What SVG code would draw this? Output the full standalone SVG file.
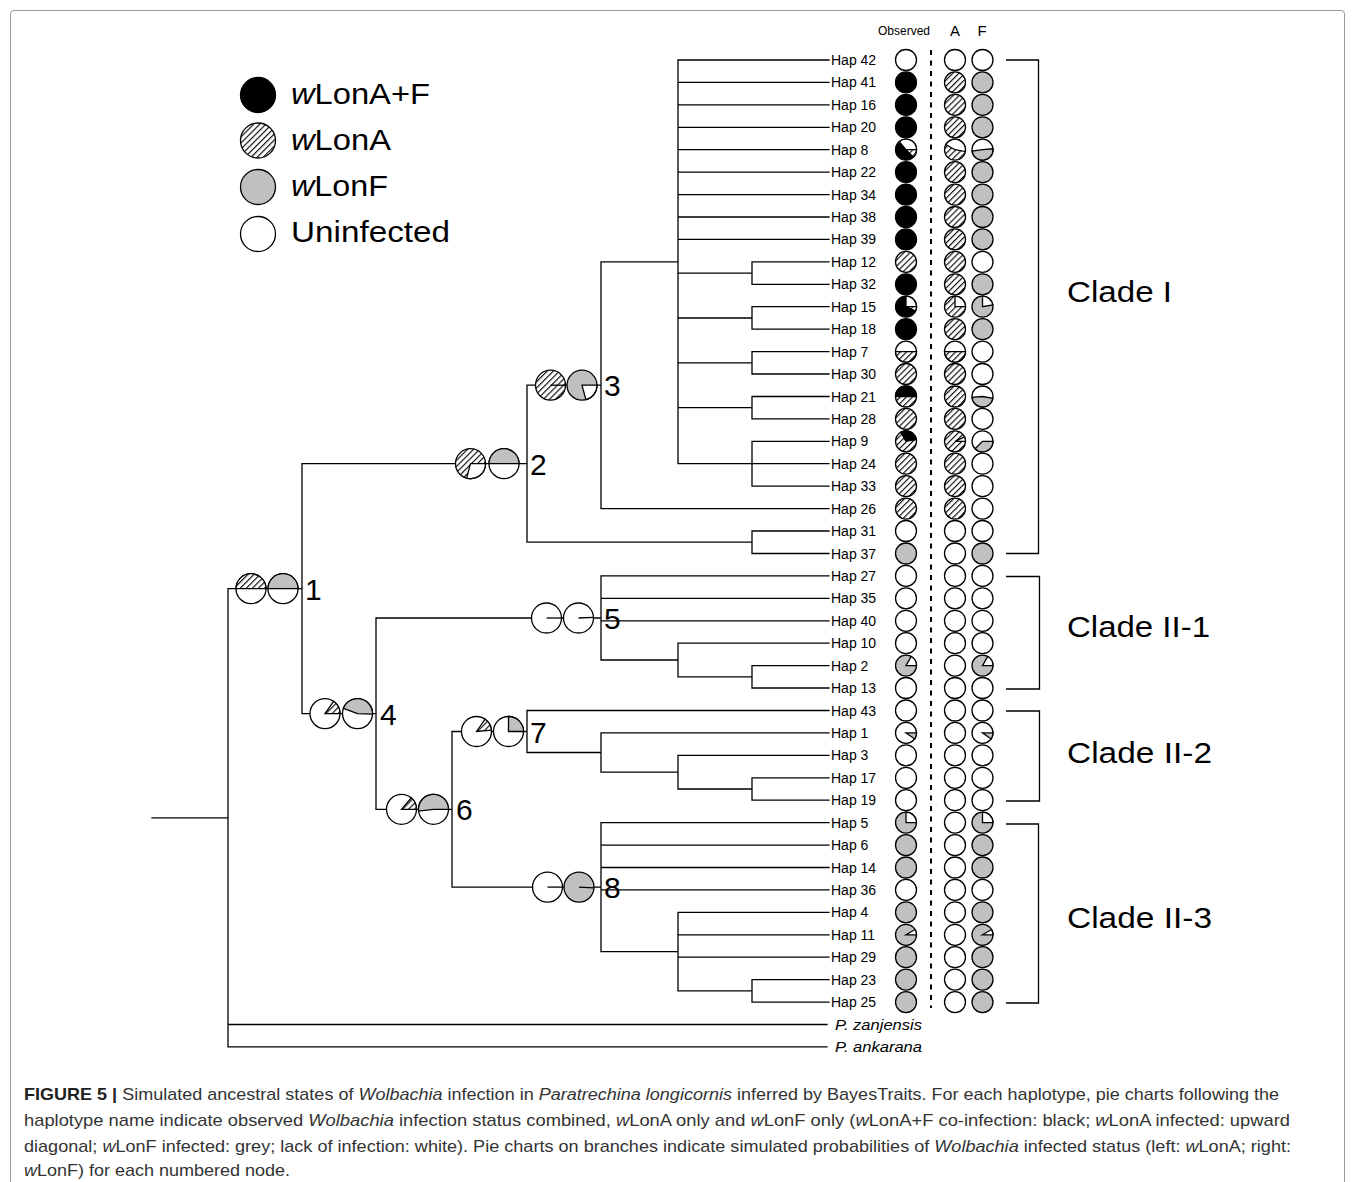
<svg xmlns="http://www.w3.org/2000/svg" xmlns:xlink="http://www.w3.org/1999/xlink" width="1355" height="1182" viewBox="0 0 1355 1182">
<defs>
<pattern id="hatch" patternUnits="userSpaceOnUse" width="4.3" height="4.3" patternTransform="rotate(45)">
<rect width="4.3" height="4.3" fill="#fff"/>
<line x1="0.6" y1="0" x2="0.6" y2="4.3" stroke="#000" stroke-width="1.1"/>
</pattern>
<style>
.w{fill:#fff;stroke:#000;stroke-width:1.3}
.b{fill:#000;stroke:#000;stroke-width:1.3}
.h{fill:url(#hatch);stroke:#000;stroke-width:1.3}
.g{fill:#c0c0c0;stroke:#000;stroke-width:1.3}
.rad{fill:none;stroke:#000;stroke-width:1.3}
.tree{fill:none;stroke:#000;stroke-width:1.3;stroke-linecap:square}
.lab{font-family:"Liberation Sans",Arial,sans-serif;font-size:14px;fill:#000}
.sp{font-family:"Liberation Sans",Arial,sans-serif;font-size:14px;font-style:italic;fill:#000}
.nl{font-family:"Liberation Sans",Arial,sans-serif;font-size:30px;fill:#000}
.big{font-family:"Liberation Sans",Arial,sans-serif;font-size:30px;fill:#000}
.cap{font-family:"Liberation Sans",Arial,sans-serif;font-size:17px;fill:#333}
.i{font-style:italic}
</style>
<circle id="pW" r="10.5" class="w"/>
<circle id="pB" r="10.5" class="b"/>
<circle id="pH" r="10.5" class="h"/>
<circle id="pG" r="10.5" class="g"/>
</defs>

<rect x="0" y="0" width="1355" height="1182" fill="#fff"/>
<path d="M10.5,1182 V14 Q10.5,10.5 14,10.5 H1341 Q1344.5,10.5 1344.5,14 V1182" fill="none" stroke="#9a9a9a" stroke-width="1"/>

<g id="legend">
<circle cx="258" cy="95" r="17.5" class="b"/>
<circle cx="258" cy="140.5" r="17.5" class="h"/>
<circle cx="258" cy="187" r="17.5" class="g"/>
<circle cx="258" cy="234" r="17.5" class="w"/>
<text class="big" x="291" y="104" textLength="139" lengthAdjust="spacingAndGlyphs"><tspan class="i">w</tspan>LonA+F</text>
<text class="big" x="291" y="150" textLength="100" lengthAdjust="spacingAndGlyphs"><tspan class="i">w</tspan>LonA</text>
<text class="big" x="291" y="196" textLength="97" lengthAdjust="spacingAndGlyphs"><tspan class="i">w</tspan>LonF</text>
<text class="big" x="291" y="242" textLength="159" lengthAdjust="spacingAndGlyphs">Uninfected</text>
</g>

<g id="header">
<text class="lab" x="878" y="35" textLength="52" lengthAdjust="spacingAndGlyphs" style="font-size:12px">Observed</text>
<text class="lab" x="955" y="36" text-anchor="middle" style="font-size:15px">A</text>
<text class="lab" x="982" y="36" text-anchor="middle" style="font-size:15px">F</text>
</g>

<g id="connectors">
<path class="tree" d="M152,817.8 H228 M228,588.7 V1046.9 M228,588.7 H302 M228,1024.5 H827 M228,1046.9 H827
M302,463.7 V713.6 M302,463.7 H527 M302,713.6 H376
M527,385.2 V542.2 M527,385.2 H601 M527,542.2 H752 M752,531 V553.5 M752,531 H829 M752,553.5 H829
M601,261.9 V508.6 M601,261.9 H678 M601,508.6 H829
M678,60 V463.7 M678,60 H829 M678,82.4 H829 M678,104.9 H829 M678,127.3 H829 M678,149.7 H829 M678,172.2 H829 M678,194.6 H829 M678,217 H829 M678,239.4 H829
M678,273.1 H752 M752,261.9 V284.3 M752,261.9 H829 M752,284.3 H829
M678,318 H752 M752,306.7 V329.2 M752,306.7 H829 M752,329.2 H829
M678,362.8 H752 M752,351.6 V374 M752,351.6 H829 M752,374 H829
M678,407.7 H752 M752,396.5 V418.9 M752,396.5 H829 M752,418.9 H829
M678,463.7 H829 M752,441.3 V486.2 M752,441.3 H829 M752,486.2 H829
M376,618 V809.3 M376,618 H601 M376,809.3 H452
M601,575.9 V660 M601,575.9 H829 M601,598.3 H829 M601,620.8 H829 M601,660 H678
M678,643.2 V676.8 M678,643.2 H829 M678,676.8 H752 M752,665.6 V688 M752,665.6 H829 M752,688 H829
M452,731.5 V887.1 M452,731.5 H527 M452,887.1 H601
M527,710.5 V752.5 M527,710.5 H829 M527,752.5 H601
M601,732.9 V772.2 M601,732.9 H829 M601,772.2 H678
M678,755.3 V789 M678,755.3 H829 M678,789 H752 M752,777.8 V800.2 M752,777.8 H829 M752,800.2 H829
M601,822.6 V951.6 M601,822.6 H829 M601,845.1 H829 M601,867.5 H829 M601,889.9 H829 M601,951.6 H678
M678,912.3 V990.9 M678,912.3 H829 M678,934.8 H829 M678,957.2 H829 M678,990.9 H752 M752,979.6 V1002.1 M752,979.6 H829 M752,1002.1 H829"/>
</g>

<line id="divider" x1="931" y1="50" x2="931" y2="1008" stroke="#000" stroke-width="2" stroke-dasharray="5 5.5"/>

<g id="tips">
<g id="hap42"><text class="lab" x="831" y="65">Hap 42</text><use href="#pW" x="906" y="60"/><use href="#pW" x="955" y="60"/><use href="#pW" x="982.5" y="60"/></g>
<g id="hap41"><text class="lab" x="831" y="87.4">Hap 41</text><use href="#pB" x="906" y="82.4"/><use href="#pH" x="955" y="82.4"/><use href="#pG" x="982.5" y="82.4"/></g>
<g id="hap16"><text class="lab" x="831" y="109.9">Hap 16</text><use href="#pB" x="906" y="104.9"/><use href="#pH" x="955" y="104.9"/><use href="#pG" x="982.5" y="104.9"/></g>
<g id="hap20"><text class="lab" x="831" y="132.3">Hap 20</text><use href="#pB" x="906" y="127.3"/><use href="#pH" x="955" y="127.3"/><use href="#pG" x="982.5" y="127.3"/></g>
<g id="hap8"><text class="lab" x="831" y="154.7">Hap 8</text>
<g transform="translate(906,149.7)"><circle r="10.5" class="b"/><path class="w" d="M0,0 L-6.75,-8.04 A10.5,10.5 0 0 1 10.5,0 Z"/><path class="h" d="M0,0 L10.5,0 A10.5,10.5 0 0 1 7.42,7.42 Z"/></g>
<g transform="translate(955,149.7)"><circle r="10.5" class="h"/><path class="w" d="M0,0 L-9.09,-5.25 A10.5,10.5 0 0 1 10.34,1.82 Z"/></g>
<g transform="translate(982.5,149.7)"><circle r="10.5" class="w"/><path class="g" d="M0,0 L10.46,-0.92 A10.5,10.5 0 0 1 -10.4,1.46 Z"/></g></g>
<g id="hap22"><text class="lab" x="831" y="177.2">Hap 22</text><use href="#pB" x="906" y="172.2"/><use href="#pH" x="955" y="172.2"/><use href="#pG" x="982.5" y="172.2"/></g>
<g id="hap34"><text class="lab" x="831" y="199.6">Hap 34</text><use href="#pB" x="906" y="194.6"/><use href="#pH" x="955" y="194.6"/><use href="#pG" x="982.5" y="194.6"/></g>
<g id="hap38"><text class="lab" x="831" y="222">Hap 38</text><use href="#pB" x="906" y="217"/><use href="#pH" x="955" y="217"/><use href="#pG" x="982.5" y="217"/></g>
<g id="hap39"><text class="lab" x="831" y="244.4">Hap 39</text><use href="#pB" x="906" y="239.4"/><use href="#pH" x="955" y="239.4"/><use href="#pG" x="982.5" y="239.4"/></g>
<g id="hap12"><text class="lab" x="831" y="266.9">Hap 12</text><use href="#pH" x="906" y="261.9"/><use href="#pH" x="955" y="261.9"/><use href="#pW" x="982.5" y="261.9"/></g>
<g id="hap32"><text class="lab" x="831" y="289.3">Hap 32</text><use href="#pB" x="906" y="284.3"/><use href="#pH" x="955" y="284.3"/><use href="#pG" x="982.5" y="284.3"/></g>
<g id="hap15"><text class="lab" x="831" y="311.7">Hap 15</text>
<g transform="translate(906,306.7)"><circle r="10.5" class="b"/><path class="w" d="M0,0 L0,-10.5 A10.5,10.5 0 0 1 10.5,0 Z"/><path class="h" d="M0,0 L10.5,0 A10.5,10.5 0 0 1 9.52,4.44 Z"/></g>
<g transform="translate(955,306.7)"><circle r="10.5" class="h"/><path class="w" d="M0,0 L0,-10.5 A10.5,10.5 0 0 1 10.5,0 Z"/></g>
<g transform="translate(982.5,306.7)"><circle r="10.5" class="g"/><path class="w" d="M0,0 L0,-10.5 A10.5,10.5 0 0 1 10.34,-1.82 Z"/></g></g>
<g id="hap18"><text class="lab" x="831" y="334.2">Hap 18</text><use href="#pB" x="906" y="329.2"/><use href="#pH" x="955" y="329.2"/><use href="#pG" x="982.5" y="329.2"/></g>
<g id="hap7"><text class="lab" x="831" y="356.6">Hap 7</text>
<g transform="translate(906,351.6)"><circle r="10.5" class="w"/><path class="h" d="M0,0 L10.5,0 A10.5,10.5 0 0 1 -10.5,0 Z"/></g>
<g transform="translate(955,351.6)"><circle r="10.5" class="w"/><path class="h" d="M0,0 L10.5,0 A10.5,10.5 0 0 1 -10.5,0 Z"/></g>
<use href="#pW" x="982.5" y="351.6"/></g>
<g id="hap30"><text class="lab" x="831" y="379">Hap 30</text><use href="#pH" x="906" y="374"/><use href="#pH" x="955" y="374"/><use href="#pW" x="982.5" y="374"/></g>
<g id="hap21"><text class="lab" x="831" y="401.5">Hap 21</text>
<g transform="translate(906,396.5)"><circle r="10.5" class="h"/><path class="b" d="M0,0 L-10.5,0 A10.5,10.5 0 0 1 10.5,0 Z"/></g>
<use href="#pH" x="955" y="396.5"/>
<g transform="translate(982.5,396.5)"><circle r="10.5" class="w"/><path class="g" d="M0,0 L10.34,1.82 A10.5,10.5 0 0 1 -10.46,0.92 Z"/></g></g>
<g id="hap28"><text class="lab" x="831" y="423.9">Hap 28</text><use href="#pH" x="906" y="418.9"/><use href="#pH" x="955" y="418.9"/><use href="#pW" x="982.5" y="418.9"/></g>
<g id="hap9"><text class="lab" x="831" y="446.3">Hap 9</text>
<g transform="translate(906,441.3)"><circle r="10.5" class="h"/><path class="b" d="M0,0 L-5.25,-9.09 A10.5,10.5 0 0 1 10.34,-1.82 Z"/></g>
<g transform="translate(955,441.3)"><circle r="10.5" class="h"/><path class="w" d="M0,0 L9.52,-4.44 A10.5,10.5 0 0 1 10.5,0 Z"/></g>
<g transform="translate(982.5,441.3)"><circle r="10.5" class="w"/><path class="g" d="M0,0 L10.5,0 A10.5,10.5 0 0 1 -7.42,7.42 Z"/></g></g>
<g id="hap24"><text class="lab" x="831" y="468.7">Hap 24</text><use href="#pH" x="906" y="463.7"/><use href="#pH" x="955" y="463.7"/><use href="#pW" x="982.5" y="463.7"/></g>
<g id="hap33"><text class="lab" x="831" y="491.2">Hap 33</text><use href="#pH" x="906" y="486.2"/><use href="#pH" x="955" y="486.2"/><use href="#pW" x="982.5" y="486.2"/></g>
<g id="hap26"><text class="lab" x="831" y="513.6">Hap 26</text><use href="#pH" x="906" y="508.6"/><use href="#pH" x="955" y="508.6"/><use href="#pW" x="982.5" y="508.6"/></g>
<g id="hap31"><text class="lab" x="831" y="536">Hap 31</text><use href="#pW" x="906" y="531"/><use href="#pW" x="955" y="531"/><use href="#pW" x="982.5" y="531"/></g>
<g id="hap37"><text class="lab" x="831" y="558.5">Hap 37</text><use href="#pG" x="906" y="553.5"/><use href="#pW" x="955" y="553.5"/><use href="#pG" x="982.5" y="553.5"/></g>
<g id="hap27"><text class="lab" x="831" y="580.9">Hap 27</text><use href="#pW" x="906" y="575.9"/><use href="#pW" x="955" y="575.9"/><use href="#pW" x="982.5" y="575.9"/></g>
<g id="hap35"><text class="lab" x="831" y="603.3">Hap 35</text><use href="#pW" x="906" y="598.3"/><use href="#pW" x="955" y="598.3"/><use href="#pW" x="982.5" y="598.3"/></g>
<g id="hap40"><text class="lab" x="831" y="625.8">Hap 40</text><use href="#pW" x="906" y="620.8"/><use href="#pW" x="955" y="620.8"/><use href="#pW" x="982.5" y="620.8"/></g>
<g id="hap10"><text class="lab" x="831" y="648.2">Hap 10</text><use href="#pW" x="906" y="643.2"/><use href="#pW" x="955" y="643.2"/><use href="#pW" x="982.5" y="643.2"/></g>
<g id="hap2"><text class="lab" x="831" y="670.6">Hap 2</text>
<g transform="translate(906,665.6)"><circle r="10.5" class="g"/><path class="w" d="M0,0 L5.25,-9.09 A10.5,10.5 0 0 1 10.5,0 Z"/></g>
<use href="#pW" x="955" y="665.6"/>
<g transform="translate(982.5,665.6)"><circle r="10.5" class="g"/><path class="w" d="M0,0 L5.25,-9.09 A10.5,10.5 0 0 1 10.5,0 Z"/></g></g>
<g id="hap13"><text class="lab" x="831" y="693">Hap 13</text><use href="#pW" x="906" y="688"/><use href="#pW" x="955" y="688"/><use href="#pW" x="982.5" y="688"/></g>
<g id="hap43"><text class="lab" x="831" y="715.5">Hap 43</text><use href="#pW" x="906" y="710.5"/><use href="#pW" x="955" y="710.5"/><use href="#pW" x="982.5" y="710.5"/></g>
<g id="hap1"><text class="lab" x="831" y="737.9">Hap 1</text>
<g transform="translate(906,732.9)"><circle r="10.5" class="w"/><path class="g" d="M0,0 L10.5,0 A10.5,10.5 0 0 1 8.6,6.02 Z"/></g>
<use href="#pW" x="955" y="732.9"/>
<g transform="translate(982.5,732.9)"><circle r="10.5" class="w"/><path class="g" d="M0,0 L10.5,0 A10.5,10.5 0 0 1 8.6,6.02 Z"/></g></g>
<g id="hap3"><text class="lab" x="831" y="760.3">Hap 3</text><use href="#pW" x="906" y="755.3"/><use href="#pW" x="955" y="755.3"/><use href="#pW" x="982.5" y="755.3"/></g>
<g id="hap17"><text class="lab" x="831" y="782.8">Hap 17</text><use href="#pW" x="906" y="777.8"/><use href="#pW" x="955" y="777.8"/><use href="#pW" x="982.5" y="777.8"/></g>
<g id="hap19"><text class="lab" x="831" y="805.2">Hap 19</text><use href="#pW" x="906" y="800.2"/><use href="#pW" x="955" y="800.2"/><use href="#pW" x="982.5" y="800.2"/></g>
<g id="hap5"><text class="lab" x="831" y="827.6">Hap 5</text>
<g transform="translate(906,822.6)"><circle r="10.5" class="g"/><path class="w" d="M0,0 L0,-10.5 A10.5,10.5 0 0 1 10.5,0 Z"/></g>
<use href="#pW" x="955" y="822.6"/>
<g transform="translate(982.5,822.6)"><circle r="10.5" class="g"/><path class="w" d="M0,0 L0,-10.5 A10.5,10.5 0 0 1 10.5,0 Z"/></g></g>
<g id="hap6"><text class="lab" x="831" y="850.1">Hap 6</text><use href="#pG" x="906" y="845.1"/><use href="#pW" x="955" y="845.1"/><use href="#pG" x="982.5" y="845.1"/></g>
<g id="hap14"><text class="lab" x="831" y="872.5">Hap 14</text><use href="#pG" x="906" y="867.5"/><use href="#pW" x="955" y="867.5"/><use href="#pG" x="982.5" y="867.5"/></g>
<g id="hap36"><text class="lab" x="831" y="894.9">Hap 36</text><use href="#pW" x="906" y="889.9"/><use href="#pW" x="955" y="889.9"/><use href="#pW" x="982.5" y="889.9"/></g>
<g id="hap4"><text class="lab" x="831" y="917.3">Hap 4</text><use href="#pG" x="906" y="912.3"/><use href="#pW" x="955" y="912.3"/><use href="#pG" x="982.5" y="912.3"/></g>
<g id="hap11"><text class="lab" x="831" y="939.8">Hap 11</text>
<g transform="translate(906,934.8)"><circle r="10.5" class="g"/><path class="w" d="M0,0 L9.09,-5.25 A10.5,10.5 0 0 1 10.5,0 Z"/></g>
<use href="#pW" x="955" y="934.8"/>
<g transform="translate(982.5,934.8)"><circle r="10.5" class="g"/><path class="w" d="M0,0 L9.09,-5.25 A10.5,10.5 0 0 1 10.5,0 Z"/></g></g>
<g id="hap29"><text class="lab" x="831" y="962.2">Hap 29</text><use href="#pG" x="906" y="957.2"/><use href="#pW" x="955" y="957.2"/><use href="#pG" x="982.5" y="957.2"/></g>
<g id="hap23"><text class="lab" x="831" y="984.6">Hap 23</text><use href="#pG" x="906" y="979.6"/><use href="#pW" x="955" y="979.6"/><use href="#pG" x="982.5" y="979.6"/></g>
<g id="hap25"><text class="lab" x="831" y="1007.1">Hap 25</text><use href="#pG" x="906" y="1002.1"/><use href="#pW" x="955" y="1002.1"/><use href="#pG" x="982.5" y="1002.1"/></g>
<g id="pzan"><text class="sp" x="835" y="1029.5" textLength="87" lengthAdjust="spacingAndGlyphs">P. zanjensis</text></g>
<g id="pank"><text class="sp" x="835" y="1051.9" textLength="87" lengthAdjust="spacingAndGlyphs">P. ankarana</text></g>
</g>

<g id="nodes">
<g id="node1">
<g transform="translate(251,588.7)"><circle r="15" class="w"/><path class="h" d="M0,0 L-15,0 A15,15 0 0 1 15,0 Z"/></g>
<g transform="translate(283,588.7)"><circle r="15" class="w"/><path class="g" d="M0,0 L-15,0 A15,15 0 0 1 15,0 Z"/></g>
<text class="nl" x="305" y="599.7">1</text></g>
<g id="node2">
<g transform="translate(470.5,463.7)"><circle r="15" class="h"/><path class="w" d="M0,0 L15,0 A15,15 0 0 1 -3.88,14.49 Z"/></g>
<g transform="translate(504,463.7)"><circle r="15" class="w"/><path class="g" d="M0,0 L-15,0 A15,15 0 0 1 15,0 Z"/></g>
<text class="nl" x="530" y="474.7">2</text></g>
<g id="node3">
<g transform="translate(550.5,385.2)"><circle r="15" class="h"/><path class="rad" d="M0,0 H15"/></g>
<g transform="translate(582,385.2)"><circle r="15" class="g"/><path class="w" d="M0,0 L15,0 A15,15 0 0 1 3.88,14.49 Z"/></g>
<text class="nl" x="604" y="396.2">3</text></g>
<g id="node4">
<g transform="translate(325,713.6)"><circle r="15" class="w"/><path class="h" d="M0,0 L8.6,-12.29 A15,15 0 0 1 15,0 Z"/></g>
<g transform="translate(357.5,713.6)"><circle r="15" class="w"/><path class="g" d="M0,0 L-14.1,-5.13 A15,15 0 0 1 14.99,0.52 Z"/></g>
<text class="nl" x="380" y="724.6">4</text></g>
<g id="node5">
<g transform="translate(546.5,618)"><circle r="15" class="w"/><path class="rad" d="M0,0 H15"/></g>
<g transform="translate(578.5,618)"><circle r="15" class="w"/><path class="rad" d="M0,0 L15,-0.6"/></g>
<text class="nl" x="604" y="629">5</text></g>
<g id="node6">
<g transform="translate(401.5,809.3)"><circle r="15" class="w"/><path class="h" d="M0,0 L9.64,-11.49 A15,15 0 0 1 15,0 Z"/></g>
<g transform="translate(433.5,809.3)"><circle r="15" class="w"/><path class="g" d="M0,0 L-14.89,1.83 A15,15 0 1 1 15,0 Z"/></g>
<text class="nl" x="456" y="820.3">6</text></g>
<g id="node7">
<g transform="translate(476.5,731.5)"><circle r="15" class="w"/><path class="h" d="M0,0 L8.6,-12.29 A15,15 0 0 1 14.94,-1.31 Z"/></g>
<g transform="translate(508.5,731.5)"><circle r="15" class="w"/><path class="g" d="M0,0 L0,-15 A15,15 0 0 1 15,0 Z"/></g>
<text class="nl" x="530" y="742.5">7</text></g>
<g id="node8">
<g transform="translate(547.5,887.1)"><circle r="15" class="w"/><path class="rad" d="M0,0 H15"/></g>
<g transform="translate(579,887.1)"><circle r="15" class="g"/><path class="rad" d="M0,0 L15,0.8"/></g>
<text class="nl" x="604" y="898.1">8</text></g>
</g>

<g id="clades">
<path class="tree" style="stroke-linecap:butt" d="M1006,60 H1038.5 V553.5 H1006 M1006,576.5 H1039.5 V689 H1006 M1006,711 H1039.5 V801 H1006 M1006,824 H1038.5 V1003 H1006"/>
<text class="big" x="1067" y="302" textLength="105" lengthAdjust="spacingAndGlyphs">Clade I</text>
<text class="big" x="1067" y="637" textLength="143" lengthAdjust="spacingAndGlyphs">Clade II-1</text>
<text class="big" x="1067" y="763" textLength="145" lengthAdjust="spacingAndGlyphs">Clade II-2</text>
<text class="big" x="1067" y="928" textLength="145" lengthAdjust="spacingAndGlyphs">Clade II-3</text>
</g>

<g id="caption">
<text class="cap" x="24" y="1100" textLength="1255" lengthAdjust="spacingAndGlyphs"><tspan font-weight="bold" fill="#222">FIGURE 5 |</tspan> Simulated ancestral states of <tspan class="i">Wolbachia</tspan> infection in <tspan class="i">Paratrechina longicornis</tspan> inferred by BayesTraits. For each haplotype, pie charts following the</text>
<text class="cap" x="24" y="1126" textLength="1266" lengthAdjust="spacingAndGlyphs">haplotype name indicate observed <tspan class="i">Wolbachia</tspan> infection status combined, <tspan class="i">w</tspan>LonA only and <tspan class="i">w</tspan>LonF only (<tspan class="i">w</tspan>LonA+F co-infection: black; <tspan class="i">w</tspan>LonA infected: upward</text>
<text class="cap" x="24" y="1152" textLength="1267" lengthAdjust="spacingAndGlyphs">diagonal; <tspan class="i">w</tspan>LonF infected: grey; lack of infection: white). Pie charts on branches indicate simulated probabilities of <tspan class="i">Wolbachia</tspan> infected status (left: <tspan class="i">w</tspan>LonA; right:</text>
<text class="cap" x="24" y="1176" textLength="266" lengthAdjust="spacingAndGlyphs"><tspan class="i">w</tspan>LonF) for each numbered node.</text>
</g>
</svg>
